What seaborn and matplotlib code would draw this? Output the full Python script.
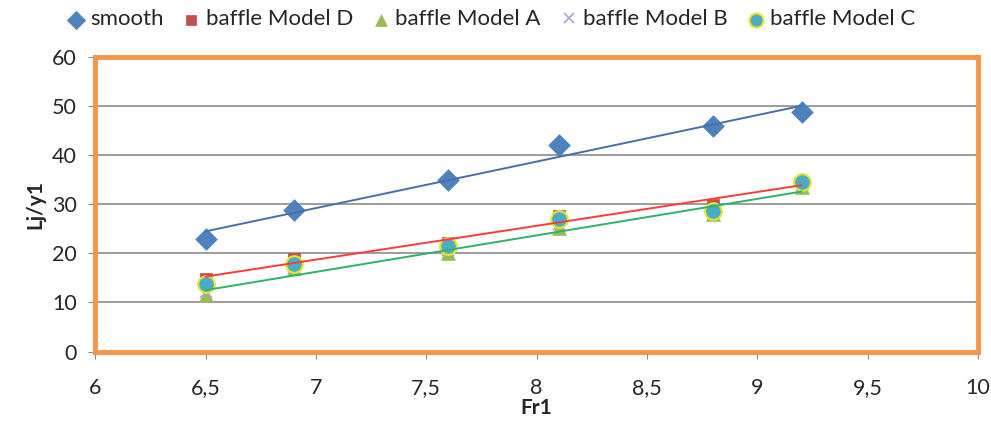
import numpy as np
import pandas as pd
import matplotlib
matplotlib.use("Agg")
import matplotlib.pyplot as plt
import seaborn as sns

# values
fr1 = [6.5, 6.9, 7.6, 8.1, 8.8, 9.2]
smooth = [23.0, 28.8, 35.0, 42.0, 46.0, 48.7]
model_d = [14.8, 18.8, 22.0, 27.5, 29.8, 34.5]
model_a = [11.5, 17.0, 20.0, 25.2, 28.0, 33.5]
model_b = [12.2, 17.5, 20.6, 26.0, 28.4, 34.0]
model_c = [13.8, 17.8, 21.5, 27.0, 28.7, 34.6]

x_ticks = [6, 6.5, 7, 7.5, 8, 8.5, 9, 9.5, 10]
y_ticks = [0, 10, 20, 30, 40, 50, 60]

sns.set_style("white")
plt.rcParams['font.family'] = ['Lato', 'DejaVu Sans']

fig, ax = plt.subplots(figsize=(9.91, 4.21), dpi=100)
fig.subplots_adjust(left=0.096, right=0.987, top=0.865, bottom=0.165)

series = [
    ("smooth", smooth, "D", "#4F81BD", "#4F81BD", 11),
    ("baffle Model D", model_d, "s", "#C0504D", "#C0504D", 9),
    ("baffle Model A", model_a, "^", "#9BBB59", "#9BBB59", 10),
    ("baffle Model B", model_b, "x", "#8064A2", "#8064A2", 8),
    ("baffle Model C", model_c, "o", "#4BACC6", "#E6E62E", 12),
]

for name, vals, mk, fc, ec, ms in series:
    df = pd.DataFrame({"Fr1": fr1, "val": vals})
    if mk == "x":
        ax.plot(df["Fr1"], df["val"], linestyle="none", marker="x", color="#B3A2C7",
                markersize=ms, markeredgewidth=1.2, label=name, zorder=3)
    else:
        sns.scatterplot(data=df, x="Fr1", y="val", marker=mk, s=ms ** 2, color=fc,
                        edgecolor=ec, linewidth=1.5 if mk == "o" else 0.5,
                        label=name, ax=ax, zorder=3)

# linear trend lines
trend_lines = [(smooth, "#4A6FA8"), (model_d, "#FF3B3B"), (model_a, "#2DB36B")]
for vals, col in trend_lines:
    df = pd.DataFrame({"Fr1": fr1, "val": vals})
    sns.regplot(data=df, x="Fr1", y="val", scatter=False, ci=None, truncate=True,
                color=col, line_kws={"linewidth": 1.4, "zorder": 4}, ax=ax)

ax.set_xlim(6, 10)
ax.set_ylim(0, 60)
ax.set_xticks(x_ticks)
ax.set_xticklabels([str(t).replace(".", ",") for t in x_ticks])
ax.set_yticks(y_ticks)
ax.yaxis.grid(True, color="#8C8C8C", linewidth=1.2)
ax.set_axisbelow(True)

for s in ax.spines.values():
    s.set_color("#F79646")
    s.set_linewidth(3.5)

ax.tick_params(axis="both", labelsize=15.5, length=5, color="#8C8C8C",
               direction="out", left=True, bottom=True)
ax.tick_params(axis="x", pad=14)
ax.tick_params(axis="y", pad=8)
ax.set_xlabel("Fr1", fontsize=15, fontweight="bold", labelpad=0)
ax.set_ylabel("Lj/y1", fontsize=15, fontweight="bold", labelpad=5)

ax.get_legend().remove()
handles, labels = ax.get_legend_handles_labels()
fig.legend(handles[:5], labels[:5], loc="upper left", bbox_to_anchor=(0.045, 1.025),
           ncol=5, frameon=False, fontsize=16, handletextpad=0.15,
           columnspacing=0.75, handlelength=1.0, markerscale=0.85)

fig.savefig("out.png", dpi=100)
